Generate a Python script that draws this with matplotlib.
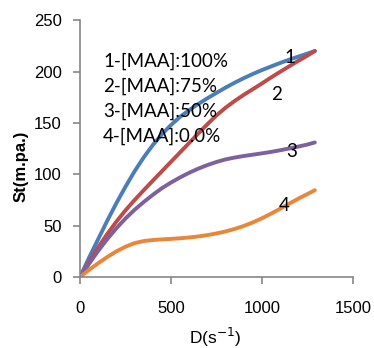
import matplotlib
matplotlib.use("Agg")
import matplotlib.pyplot as plt

shear_rate = [0, 50, 100, 150, 200, 250, 300, 350, 400, 450, 500, 550, 600, 650,
              700, 750, 800, 850, 900, 950, 1000, 1050, 1100, 1150, 1200, 1250, 1290]
st_100 = [0, 19, 37, 55, 72, 88, 103, 116.5, 128.5, 139, 148, 156, 162.5, 168.5,
          174, 179.3, 184.4, 189.2, 193.6, 197.7, 201.5, 205, 208.4, 211.6, 214.6, 217.5, 220]
st_75 = [0, 15, 29, 42, 54, 65, 75, 84.5, 93.8, 103, 112.2, 121.4, 130.6, 139.8,
         148.8, 157.4, 164.9, 171.4, 177.4, 182.9, 188.5, 194.3, 199.8, 205.2, 210.5, 215.6, 220]
st_50 = [0, 13, 25.5, 37, 47.5, 57, 65.5, 73, 80, 86.5, 92, 97, 101.5, 105.5,
         109, 112, 114.5, 116.3, 117.8, 119.1, 120.4, 121.8, 123.4, 125.2, 127, 129, 131]
st_0 = [0, 7, 13.5, 19.5, 25, 29.5, 33, 35, 36, 36.6, 37.1, 37.7, 38.5, 39.5,
        40.8, 42.4, 44.4, 46.8, 49.7, 53.2, 57.2, 61.7, 66.5, 71.5, 76.3, 80.8, 84.5]

series = [st_100, st_75, st_50, st_0]
colors = ["#4A7EBB", "#BE4B48", "#7D60A0", "#E8873A"]
curve_labels = ["1", "2", "3", "4"]
label_pos = [(1154, 214), (1077, 178), (1160, 122), (1121, 70)]
legend_lines = ["1-[MAA]:100%", "2-[MAA]:75%", "3-[MAA]:50%", "4-[MAA]:0.0%"]
xticks = [0, 500, 1000, 1500]
yticks = [0, 50, 100, 150, 200, 250]

fig = plt.figure(figsize=(3.74, 3.48), dpi=100)
ax = fig.add_axes([0.214, 0.204, 0.730, 0.738])

for ys, c in zip(series, colors):
    ax.plot(shear_rate, ys, color=c, lw=2.8, solid_capstyle="round", solid_joinstyle="round")

for lab, (x, y) in zip(curve_labels, label_pos):
    ax.text(x, y, lab, fontsize=13.5, family="Lato", ha="center", va="center", color="black")

for i, t in enumerate(legend_lines):
    fig.text(103 / 374, 1 - (61 + 25 * i) / 348, t, fontsize=13.5, family="Lato",
             ha="left", va="center", color="black")

ax.set_xlim(0, 1500)
ax.set_ylim(0, 250)
ax.set_xticks(xticks)
ax.set_yticks(yticks)
for s in ["top", "right"]:
    ax.spines[s].set_visible(False)
for s in ["left", "bottom"]:
    ax.spines[s].set_color("#868686")
    ax.spines[s].set_linewidth(1.2)
ax.tick_params(axis="both", colors="#868686", labelcolor="black", length=5, width=1.2,
               labelsize=12)
ax.tick_params(axis="x", pad=12)
ax.tick_params(axis="y", pad=8)
for lab in ax.get_xticklabels() + ax.get_yticklabels():
    lab.set_family("Liberation Sans")

fig.text(215 / 374, 1 - 337 / 348, "D(s$^{-1}$)", fontsize=12.5, family="Liberation Sans",
         ha="center", va="center")
fig.text(21 / 374, 1 - 166 / 348, "St(m.pa.)", fontsize=12, family="Liberation Sans",
         fontweight="bold", rotation=90, ha="center", va="center")

fig.savefig("out.png", dpi=100)
